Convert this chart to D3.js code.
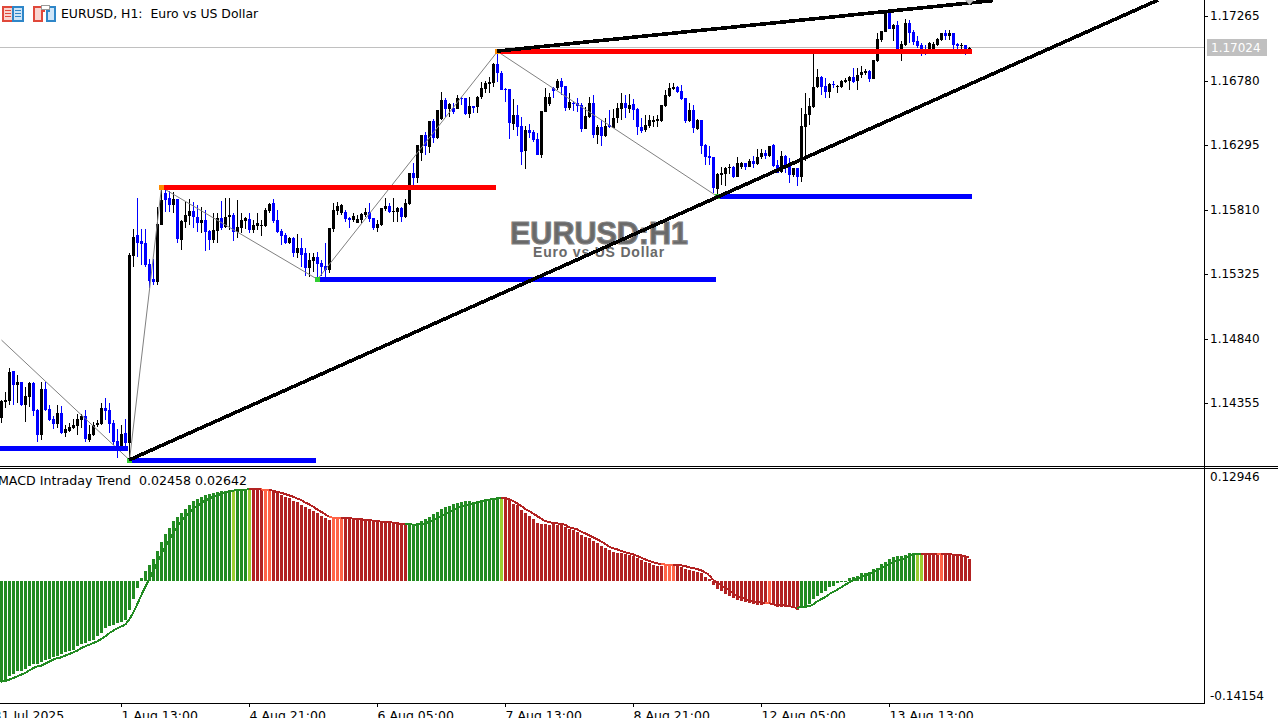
<!DOCTYPE html>
<html lang="en">
<head>
<meta charset="UTF-8">
<script src="https://d3js.org/d3.v7.min.js"></script>
<style>
    body, html { margin: 0; width: 100%; height: 100%; overflow: hidden; background: #fff; }
    svg { display: block; font-family: "DejaVu Sans", sans-serif; font-size: 12.45px; }
    .axis text { fill: #000; font-family: "DejaVu Sans", sans-serif; font-size: 12px; }
    .axis.time text { font-size: 12.5px; }
    .axis line { stroke: #000; shape-rendering: crispEdges; }
    .crisp { shape-rendering: crispEdges; }
</style>
</head>
<body>
<div id="chart"></div>
<script>
// prices are in points (1.17024 = 117024)
const opens = [114242,114362,114369,114595,114490,114512,114339,114400,114505,114302,114114,114460,114309,114234,114196,114279,114129,114144,114166,114181,
114226,114257,114076,114114,114189,114196,114317,114302,114204,114069,114031,114129,114054,115460,115618,115573,115558,115400,115287,115265,
115693,115934,115896,115843,115889,115580,115716,115761,115798,115753,115708,115731,115648,115580,115648,115746,115678,115753,115768,115640,
115670,115723,115738,115655,115685,115685,115685,115798,115858,115731,115648,115618,115558,115595,115482,115520,115482,115370,115422,115452,
115407,115385,115355,115663,115798,115783,115791,115746,115731,115708,115731,115768,115791,115746,115670,115693,115813,115836,115791,115791,
115821,115753,115851,116084,116047,116234,116370,116280,116475,116347,116490,116633,116565,116573,116565,116648,116648,116528,116588,116580,
116656,116716,116753,116761,116904,116836,116716,116716,116452,116520,116437,116250,116407,116392,116340,116219,116543,116603,116723,116723,
116776,116738,116573,116610,116610,116595,116415,116505,116610,116370,116430,116362,116445,116422,116498,116565,116610,116565,116603,116565,
116430,116407,116437,116467,116475,116475,116588,116663,116716,116731,116701,116648,116475,116558,116415,116483,116295,116212,116204,115964,
116069,116077,116122,116129,116054,116129,116159,116129,116174,116152,116204,116234,116212,116295,116144,116092,116212,116159,116069,116122,
116054,116430,116520,116580,116731,116806,116738,116693,116753,116731,116731,116768,116776,116806,116776,116821,116836,116851,116791,116926,
117084,117144,117302,117167,117197,117017,117047,117212,117144,117077,117047,117017,117017,117017,117047,117084,117137,117114,117137,117054,
117039,117047,117009];
const highs = [114377,114437,114618,114595,114565,114512,114475,114512,114512,114309,114512,114512,114339,114257,114339,114332,114189,114204,114234,114272,
114272,114302,114189,114211,114226,114354,114392,114354,114226,114159,114189,114234,115482,115663,115896,115663,115663,115437,115437,115828,
115956,115956,115949,115941,115889,115731,115866,115889,115866,115843,115828,115806,115655,115783,115783,115874,115896,115896,115783,115881,
115783,115753,115783,115731,115783,115731,115821,115858,115889,115806,115663,115633,115603,115603,115625,115595,115520,115482,115482,115490,
115430,115558,115670,115858,115866,115851,115806,115753,115783,115768,115783,115821,115858,115746,115731,115821,115896,115858,115896,115828,
115828,115889,116084,116159,116295,116370,116392,116475,116490,116558,116693,116648,116610,116610,116671,116656,116648,116656,116588,116663,
116768,116776,116806,116911,116994,116851,116723,116716,116641,116595,116505,116437,116452,116407,116385,116550,116723,116686,116731,116791,
116798,116738,116686,116625,116648,116610,116580,116656,116671,116445,116483,116498,116558,116565,116610,116686,116671,116678,116641,116573,
116498,116520,116520,116513,116520,116595,116708,116761,116761,116738,116746,116648,116610,116595,116490,116483,116302,116287,116204,116084,
116129,116129,116152,116137,116204,116167,116159,116189,116212,116265,116265,116257,116287,116302,116182,116250,116219,116197,116122,116122,
116573,116686,116648,116979,116866,116813,116798,116761,116776,116746,116783,116798,116813,116874,116874,116889,116866,116859,116934,117137,
117152,117310,117310,117205,117227,117077,117242,117235,117159,117114,117062,117047,117069,117069,117099,117137,117159,117159,117137,117062,
117062,117047,117032];
const lows = [114204,114317,114339,114339,114354,114332,114211,114324,114257,114061,114076,114294,114219,114159,114166,114121,114099,114136,114159,114114,
114166,114061,114061,114106,114174,114189,114226,114129,114039,113941,114001,114031,113933,115377,115452,115392,115377,115219,115242,115242,
115693,115791,115791,115783,115558,115505,115670,115693,115670,115640,115633,115497,115505,115558,115558,115655,115670,115655,115573,115595,
115633,115663,115633,115633,115655,115610,115678,115783,115708,115633,115543,115550,115550,115452,115445,115377,115310,115302,115340,115295,
115310,115302,115332,115640,115768,115768,115716,115670,115716,115708,115708,115753,115716,115655,115640,115685,115798,115783,115716,115716,
115716,115746,115843,115979,116009,116174,116219,116234,116310,116340,116483,116505,116505,116528,116565,116595,116520,116498,116535,116535,
116641,116686,116686,116731,116768,116708,116618,116340,116407,116362,116144,116114,116347,116317,116219,116197,116543,116588,116648,116708,
116671,116550,116558,116550,116543,116392,116415,116498,116347,116302,116287,116355,116422,116422,116460,116483,116498,116535,116483,116370,
116385,116392,116422,116430,116430,116467,116580,116656,116708,116686,116633,116460,116467,116385,116407,116227,116144,116144,115934,115919,
115994,115986,116077,116047,116054,116114,116107,116129,116122,116144,116189,116189,116204,116129,116084,116084,116084,116009,116054,115986,
116016,116174,116445,116573,116723,116671,116648,116648,116723,116686,116723,116761,116708,116761,116708,116798,116821,116768,116791,116919,
117069,117144,117167,117077,116979,116926,117039,117062,117047,117024,116964,116971,117009,117009,117039,117077,117084,117084,117017,117017,
117009,116971,116994];
const closes = [114369,114377,114588,114490,114512,114339,114407,114505,114294,114114,114460,114302,114226,114196,114279,114129,114159,114174,114189,114234,
114257,114084,114121,114189,114204,114317,114294,114196,114061,114016,114121,114054,115467,115603,115558,115550,115392,115272,115265,115700,
115881,115881,115843,115889,115588,115723,115768,115798,115753,115708,115731,115640,115580,115655,115746,115670,115753,115768,115640,115678,
115731,115746,115655,115693,115708,115693,115806,115851,115723,115640,115610,115558,115595,115482,115520,115467,115370,115430,115452,115400,
115377,115355,115670,115806,115836,115843,115738,115731,115761,115738,115776,115791,115738,115670,115700,115821,115836,115791,115798,115821,
115753,115858,116084,116047,116295,116370,116287,116475,116347,116558,116633,116565,116603,116543,116648,116641,116528,116588,116573,116656,
116723,116761,116768,116904,116836,116708,116708,116460,116520,116430,116242,116407,116385,116332,116219,116550,116656,116656,116701,116776,
116731,116573,116618,116603,116588,116415,116513,116610,116370,116430,116362,116437,116430,116498,116573,116610,116573,116595,116558,116430,
116400,116445,116483,116483,116490,116595,116671,116723,116731,116693,116641,116475,116558,116422,116483,116287,116204,116197,115971,116077,
116084,116122,116129,116054,116159,116159,116129,116174,116152,116204,116234,116212,116287,116137,116084,116212,116144,116069,116122,116054,
116437,116528,116588,116731,116806,116731,116693,116753,116746,116738,116776,116783,116806,116768,116821,116844,116851,116791,116934,117092,
117152,117302,117167,117197,117017,117054,117212,117137,117069,117039,117009,117009,117062,117054,117092,117137,117114,117137,117047,117039,
117047,117009,117024];

const macdBars = [-0.1165,-0.1165,-0.1096,-0.1073,-0.1046,-0.1038,-0.1019,-0.0989,-0.0962,-0.0958,-0.0943,-0.0920,-0.0904,-0.0881,-0.0866,-0.0843,-0.0828,-0.0816,-0.0797,-0.0759,
-0.0728,-0.0721,-0.0701,-0.0682,-0.0644,-0.0606,-0.0548,-0.0529,-0.0510,-0.0491,-0.0472,-0.0453,-0.0338,-0.0215,-0.0089,0.0034,0.0111,0.0179,0.0245,0.0340,
0.0440,0.0536,0.0601,0.0685,0.0735,0.0781,0.0819,0.0869,0.0915,0.0934,0.0957,0.0984,0.0995,0.1003,0.1014,0.1026,0.1034,0.1041,0.1041,0.1045,
0.1049,0.1049,0.1049,0.1053,0.1049,0.1041,0.1034,0.1030,0.1022,0.1003,0.0988,0.0965,0.0945,0.0919,0.0899,0.0869,0.0850,0.0819,0.0800,0.0773,
0.0746,0.0716,0.0700,0.0704,0.0716,0.0716,0.0727,0.0704,0.0704,0.0704,0.0704,0.0696,0.0696,0.0685,0.0685,0.0673,0.0673,0.0666,0.0666,0.0658,
0.0658,0.0658,0.0639,0.0639,0.0666,0.0689,0.0712,0.0735,0.0762,0.0784,0.0819,0.0842,0.0853,0.0876,0.0888,0.0899,0.0911,0.0911,0.0907,0.0911,
0.0919,0.0930,0.0934,0.0945,0.0957,0.0934,0.0957,0.0934,0.0880,0.0865,0.0811,0.0781,0.0742,0.0704,0.0658,0.0650,0.0650,0.0639,0.0647,0.0639,
0.0639,0.0620,0.0589,0.0581,0.0562,0.0524,0.0497,0.0490,0.0459,0.0428,0.0401,0.0375,0.0352,0.0329,0.0321,0.0321,0.0306,0.0290,0.0283,0.0260,
0.0237,0.0218,0.0206,0.0176,0.0168,0.0168,0.0179,0.0179,0.0179,0.0179,0.0160,0.0133,0.0121,0.0110,0.0102,0.0083,0.0045,0.0014,-0.0051,-0.0097,
-0.0120,-0.0154,-0.0177,-0.0200,-0.0223,-0.0235,-0.0246,-0.0262,-0.0269,-0.0281,-0.0281,-0.0269,-0.0262,-0.0281,-0.0300,-0.0300,-0.0300,-0.0308,-0.0315,-0.0338,
-0.0300,-0.0292,-0.0269,-0.0216,-0.0177,-0.0147,-0.0120,-0.0078,-0.0062,-0.0024,-0.0009,-0.0005,0.0026,0.0045,0.0056,0.0083,0.0091,0.0102,0.0129,0.0148,
0.0187,0.0217,0.0244,0.0267,0.0278,0.0282,0.0298,0.0313,0.0313,0.0294,0.0294,0.0309,0.0309,0.0309,0.0309,0.0294,0.0309,0.0301,0.0301,0.0294,
0.0282,0.0267,0.02458];
const macdSignal = [-0.1165,-0.1157,-0.1142,-0.1123,-0.1104,-0.1084,-0.1065,-0.1038,-0.1008,-0.0989,-0.0981,-0.0958,-0.0935,-0.0912,-0.0893,-0.0885,-0.0866,-0.0847,-0.0828,-0.0809,
-0.0778,-0.0759,-0.0740,-0.0721,-0.0701,-0.0675,-0.0644,-0.0606,-0.0579,-0.0552,-0.0529,-0.0510,-0.0453,-0.0376,-0.0280,-0.0177,-0.0081,0.0015,0.0103,0.0199,
0.0294,0.0382,0.0467,0.0543,0.0612,0.0677,0.0727,0.0781,0.0823,0.0857,0.0888,0.0919,0.0942,0.0965,0.0980,0.0995,0.1011,0.1022,0.1034,0.1041,
0.1045,0.1045,0.1049,0.1057,0.1057,0.1049,0.1041,0.1041,0.1034,0.1018,0.1011,0.0995,0.0980,0.0965,0.0945,0.0926,0.0899,0.0877,0.0850,0.0819,
0.0792,0.0762,0.0735,0.0723,0.0716,0.0723,0.0723,0.0716,0.0712,0.0712,0.0704,0.0700,0.0696,0.0689,0.0685,0.0677,0.0673,0.0670,0.0666,0.0658,
0.0654,0.0647,0.0647,0.0643,0.0643,0.0647,0.0658,0.0673,0.0693,0.0712,0.0735,0.0758,0.0781,0.0804,0.0827,0.0850,0.0857,0.0873,0.0888,0.0899,
0.0911,0.0922,0.0930,0.0938,0.0945,0.0949,0.0945,0.0934,0.0915,0.0888,0.0861,0.0823,0.0800,0.0773,0.0742,0.0712,0.0685,0.0673,0.0662,0.0658,
0.0650,0.0643,0.0612,0.0601,0.0589,0.0562,0.0543,0.0520,0.0497,0.0474,0.0451,0.0421,0.0390,0.0371,0.0359,0.0340,0.0325,0.0313,0.0302,0.0283,
0.0264,0.0244,0.0225,0.0210,0.0198,0.0191,0.0183,0.0183,0.0183,0.0179,0.0175,0.0167,0.0152,0.0144,0.0133,0.0117,0.0094,0.0064,0.0006,-0.0024,
-0.0055,-0.0082,-0.0108,-0.0147,-0.0174,-0.0197,-0.0212,-0.0231,-0.0242,-0.0250,-0.0254,-0.0258,-0.0262,-0.0273,-0.0285,-0.0285,-0.0288,-0.0296,-0.0304,-0.0319,
-0.0304,-0.0304,-0.0296,-0.0277,-0.0242,-0.0216,-0.0193,-0.0158,-0.0131,-0.0108,-0.0078,-0.0051,-0.0024,-0.0001,0.0018,0.0041,0.0060,0.0075,0.0094,0.0121,
0.0141,0.0167,0.0190,0.0209,0.0229,0.0244,0.0255,0.0278,0.0298,0.0305,0.0309,0.0309,0.0309,0.0309,0.0309,0.0309,0.0309,0.0305,0.0298,0.0294,
0.0290,0.0278,0.02642];
// runs of bars in each trend state
const macdRuns = [["up",58],["upWeak",1],["up",3],["upWeak",1],["down",3],["downWeak",2],["down",15],["downWeak",3],["down",16],["up",23],["upWeak",1],
["down",40],["downWeak",3],["down",23],["downWeak",1],["down",7],["up",29],["upWeak",2],["down",4],["downWeak",1],["down",7]];
const stateColors = {up: "#228B22", upWeak: "#9ACD32", down: "#B22222", downWeak: "#FF6347"};

const priceTicks = [117265,116780,116295,115810,115325,114840,114355];
const currentPrice = 117024;
const macdTicks = [0.12946,-0.14154];
const timeBars = [-2,30,62,94,126,158,190,222];
const timeLabels = ["31 Jul 2025","1 Aug 13:00","4 Aug 21:00","6 Aug 05:00","7 Aug 13:00","8 Aug 21:00","12 Aug 05:00","13 Aug 13:00"];

// objects on the chart, anchored on [bar, price]
const zigzagBars = [0,32,40,79,124,179];
const zigzagPrices = [114828,113926,115977,115285,116998,115907];
const levelStart = [-1,32,40,79,124,179];
const levelEnd = [31.8,78.7,123.7,178.7,242.7,242.7];
const levelPrice = [114014,113924,115977,115285,117003,115915];
const levelKind = ["low","low","high","low","high","low"];
const trendLines = [[[32,113926],[289.25,117385]],[[124,117001],[248,117381]]];
const markerBars = [32,40,79,124,179];
const markerPrices = [113924,115977,115285,117003,115915];
const markerKind = ["low","high","low","high","low"];

const width = 1278, height = 718;
const axisX = 1204, mainBottom = 466, subTop = 468, subBottom = 703;

const svg = d3.select("#chart").append("svg").attr("width", width).attr("height", height);

const x = d3.scaleLinear().domain([0, 242]).range([1, 969]);
const y = d3.scaleLinear().domain([117265, 114355]).range([16, 403]);
const yMacd = d3.scaleLinear().domain([0.12946, -0.14154]).range([subTop, subBottom + 0.5]);

svg.append("defs").append("clipPath").attr("id", "main-clip")
    .append("rect").attr("width", axisX).attr("height", mainBottom);

// watermark sits under everything
svg.append("text").attr("x", 599).attr("y", 244).attr("text-anchor", "middle")
    .style("font", "bold 30.5px 'Liberation Sans'").attr("fill", "#696969")
    .attr("stroke", "#808080").attr("stroke-width", 1.2).text("EURUSD:H1");
svg.append("text").attr("x", 599).attr("y", 257).attr("text-anchor", "middle")
    .style("font", "bold 14px 'Liberation Sans'").style("letter-spacing", "0.8px").attr("fill", "#696969")
    .text("Euro vs US Dollar");

const main = svg.append("g").attr("clip-path", "url(#main-clip)");

main.append("line").attr("class", "crisp").attr("x1", 0).attr("x2", axisX)
    .attr("y1", Math.floor(y(currentPrice)) - 0.5).attr("y2", Math.floor(y(currentPrice)) - 0.5)
    .attr("stroke", "#C0C0C0");

// candles
const candles = d3.range(opens.length);
const candleColor = i => closes[i] >= opens[i] ? "#000" : "#0000FF";
main.append("g").attr("class", "crisp").selectAll("rect.wick").data(candles).enter().append("rect")
    .attr("class", "wick")
    .attr("x", i => x(i))
    .attr("y", i => Math.round(y(highs[i])))
    .attr("width", 1)
    .attr("height", i => Math.max(1, Math.round(y(lows[i])) - Math.round(y(highs[i]))))
    .attr("fill", candleColor);
main.append("g").attr("class", "crisp").selectAll("rect.body").data(candles).enter().append("rect")
    .attr("class", "body")
    .attr("x", i => x(i) - 1)
    .attr("y", i => Math.round(y(Math.max(opens[i], closes[i]))))
    .attr("width", 3)
    .attr("height", i => Math.max(1, Math.round(y(Math.min(opens[i], closes[i]))) - Math.round(y(Math.max(opens[i], closes[i])))))
    .attr("fill", candleColor);

// zigzag
main.append("path")
    .datum(d3.zip(zigzagBars, zigzagPrices))
    .attr("fill", "none").attr("stroke", "#808080").attr("stroke-width", 1)
    .attr("d", d3.line().x(d => x(d[0]) + 0.5).y(d => y(d[1])));

// support and resistance levels
main.append("g").attr("class", "crisp").selectAll("rect").data(levelPrice).enter().append("rect")
    .attr("x", (d, i) => x(levelStart[i]))
    .attr("y", d => Math.round(y(d)) - 2)
    .attr("width", (d, i) => x(levelEnd[i]) - x(levelStart[i]))
    .attr("height", 5)
    .attr("fill", (d, i) => levelKind[i] === "high" ? "#FF0000" : "#0000FF");

// swing markers
main.append("g").attr("class", "crisp").selectAll("rect").data(markerPrices).enter().append("rect")
    .attr("x", (d, i) => x(markerBars[i]) - 2)
    .attr("y", d => Math.round(y(d)) - 2)
    .attr("width", 5).attr("height", 5)
    .attr("fill", (d, i) => markerKind[i] === "high" ? "#FF8C00" : "#32CD32");

// trend lines
main.append("g").attr("class", "crisp").selectAll("line").data(trendLines).enter().append("line")
    .attr("x1", d => x(d[0][0])).attr("y1", d => y(d[0][1]))
    .attr("x2", d => x(d[1][0])).attr("y2", d => y(d[1][1]))
    .attr("stroke", "#000").attr("stroke-width", 3.6);

// arrow at the top of the last bar
main.append("path")
    .attr("d", d3.line()([[x(242) - 5, -1], [x(242) + 6, -1], [x(242) + 0.5, 5]]))
    .attr("fill", "#C0C0C0");

// MACD pane
const barStates = macdRuns.flatMap(([s, n]) => d3.range(n).map(() => s));
svg.append("g").attr("class", "crisp").selectAll("rect").data(macdBars).enter().append("rect")
    .attr("x", (d, i) => x(i) - 1)
    .attr("y", d => Math.min(Math.round(yMacd(d)), Math.round(yMacd(0))))
    .attr("width", 3)
    .attr("height", d => Math.max(1, Math.abs(Math.round(yMacd(d)) - Math.round(yMacd(0)))))
    .attr("fill", (d, i) => stateColors[barStates[i]]);

svg.append("g").attr("class", "crisp").selectAll("line").data(macdSignal.slice(1)).enter().append("line")
    .attr("x1", (d, i) => x(i)).attr("y1", (d, i) => yMacd(macdSignal[i]))
    .attr("x2", (d, i) => x(i + 1)).attr("y2", d => yMacd(d))
    .attr("stroke-width", 2)
    .attr("stroke", (d, i) => stateColors[barStates[i + 1]].replace("#9ACD32", "#228B22"));

svg.append("text").attr("x", -2).attr("y", 485).attr("fill", "#000")
    .attr("xml:space", "preserve").style("white-space", "pre").style("font-size", "12.6px")
    .text("MACD Intraday Trend  0.02458 0.02642");

// frame lines
const frame = svg.append("g").attr("class", "crisp").attr("stroke", "#000");
frame.append("line").attr("x1", 0).attr("x2", width).attr("y1", 466.5).attr("y2", 466.5);
frame.append("line").attr("x1", 0).attr("x2", width).attr("y1", 468.5).attr("y2", 468.5);
frame.append("line").attr("x1", axisX + 0.5).attr("x2", axisX + 0.5).attr("y1", 0).attr("y2", subBottom + 1);
frame.append("line").attr("x1", 0).attr("x2", axisX).attr("y1", subBottom + 0.5).attr("y2", subBottom + 0.5);

// axes
const priceAxis = svg.append("g").attr("class", "axis").attr("transform", `translate(${axisX},0)`)
    .call(d3.axisRight(y).tickValues(priceTicks).tickSize(4).tickPadding(2).tickFormat(d => d3.format(".5f")(d / 1e5)));
priceAxis.select(".domain").remove();

const macdAxis = svg.append("g").attr("class", "axis").attr("transform", `translate(${axisX},0)`)
    .call(d3.axisRight(yMacd).tickValues(macdTicks).tickSize(0).tickPadding(6).tickFormat(d => d.toFixed(5)));
macdAxis.select(".domain").remove();
macdAxis.selectAll("text").attr("dy", d => d > 0 ? "9px" : "-8px").attr("dominant-baseline", "middle");

const timeAxis = svg.append("g").attr("class", "axis time").attr("transform", `translate(0,${subBottom})`)
    .call(d3.axisBottom(x).tickValues(timeBars).tickSize(4).tickPadding(4).tickFormat((d, i) => timeLabels[i]));
timeAxis.select(".domain").remove();
timeAxis.selectAll("text").attr("text-anchor", "start").attr("dx", 0);

svg.append("rect").attr("x", 1207).attr("y", 39).attr("width", 60).attr("height", 17).attr("fill", "#C0C0C0");
svg.append("text").attr("x", 1211).attr("y", 52).attr("fill", "#fff").style("font-size", "12px").text(d3.format(".5f")(currentPrice / 1e5));

// title and its two toolbar icons
svg.append("text").attr("x", 61).attr("y", 18).attr("fill", "#000")
    .attr("xml:space", "preserve").style("white-space", "pre")
    .text("EURUSD, H1:  Euro vs US Dollar");

const icons = svg.append("g").attr("class", "crisp").attr("stroke-width", 1.5);
icons.append("rect").attr("x", 3).attr("y", 7).attr("width", 10).attr("height", 14).attr("fill", "#F9D5D0").attr("stroke", "#E0483A");
icons.append("rect").attr("x", 13).attr("y", 7).attr("width", 10).attr("height", 14).attr("fill", "#CFE5F7").attr("stroke", "#2E86C8");
[10.5, 13.5, 16.5].forEach(v => {
    icons.append("line").attr("x1", 5).attr("x2", 11).attr("y1", v).attr("y2", v).attr("stroke", "#E0483A");
    icons.append("line").attr("x1", 15).attr("x2", 21).attr("y1", v).attr("y2", v).attr("stroke", "#2E86C8");
});
icons.append("path").attr("d", "M34,7H44V11H42V21H34Z").attr("fill", "#F9D5D0").attr("stroke", "#E0483A");
icons.append("path").attr("d", "M55,7V21H47V11H49V7Z").attr("fill", "#CFE5F7").attr("stroke", "#2E86C8");
icons.append("rect").attr("x", 41.5).attr("y", 5.5).attr("width", 8).attr("height", 4).attr("fill", "#fff").attr("stroke", "#999").attr("stroke-width", 1);
</script>
</body>
</html>
